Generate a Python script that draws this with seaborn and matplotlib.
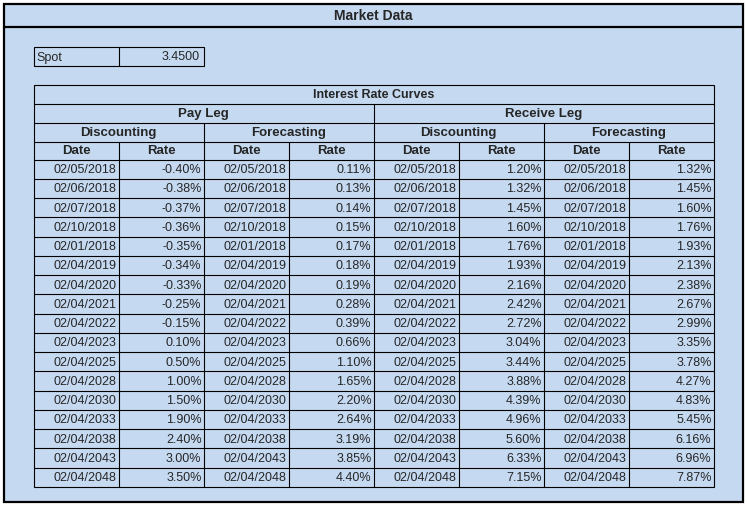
import matplotlib
matplotlib.use('Agg')
import matplotlib.pyplot as plt
import seaborn as sns

dates = ['02/05/2018', '02/06/2018', '02/07/2018', '02/10/2018', '02/01/2018',
         '02/04/2019', '02/04/2020', '02/04/2021', '02/04/2022', '02/04/2023',
         '02/04/2025', '02/04/2028', '02/04/2030', '02/04/2033', '02/04/2038',
         '02/04/2043', '02/04/2048']
pay_disc = [-0.40, -0.38, -0.37, -0.36, -0.35, -0.34, -0.33, -0.25, -0.15, 0.10,
            0.50, 1.00, 1.50, 1.90, 2.40, 3.00, 3.50]
pay_fwd = [0.11, 0.13, 0.14, 0.15, 0.17, 0.18, 0.19, 0.28, 0.39, 0.66,
           1.10, 1.65, 2.20, 2.64, 3.19, 3.85, 4.40]
rec_disc = [1.20, 1.32, 1.45, 1.60, 1.76, 1.93, 2.16, 2.42, 2.72, 3.04,
            3.44, 3.88, 4.39, 4.96, 5.60, 6.33, 7.15]
rec_fwd = [1.32, 1.45, 1.60, 1.76, 1.93, 2.13, 2.38, 2.67, 2.99, 3.35,
           3.78, 4.27, 4.83, 5.45, 6.16, 6.96, 7.87]
spot = 3.45

sns.set_style('white')
plt.rcParams['font.family'] = ['Liberation Sans', 'DejaVu Sans']
BG = '#C5D9F1'

fig = plt.figure(figsize=(7.47, 5.10), dpi=100)
fig.patch.set_facecolor('white')
ax = fig.add_axes([0, 0, 1, 1])
ax.set_xlim(0, 747)
ax.set_ylim(510, 0)
ax.axis('off')

# outer panel
ax.add_patch(plt.Rectangle((3.5, 4.5), 739, 498, facecolor=BG, edgecolor='black', lw=1.6))
ax.plot([3.5, 742.5], [27.5, 27.5], color='black', lw=1.6)
ax.text(373, 16, 'Market Data', ha='center', va='center', fontsize=10, fontweight='bold')

def hline(x0, x1, y):
    ax.plot([x0, x1], [y, y], color='black', lw=0.8)

def vline(x, y0, y1):
    ax.plot([x, x], [y0, y1], color='black', lw=0.8)

# spot box
ax.add_patch(plt.Rectangle((33.5, 47.5), 170, 19, fill=False, edgecolor='black', lw=0.8))
vline(118.5, 47.5, 66.5)
ax.text(36, 57.5, 'Spot', ha='left', va='center', fontsize=9)
ax.text(200, 57.5, f'{spot:.4f}', ha='right', va='center', fontsize=9)

# table grid
cols = [33.5 + 85 * i for i in range(9)]
cols[-1] = 713.5
L, R = cols[0], cols[-1]
top = 85.5
hdr = [top, 104.5, 123.5, 142.5, 160.5]
row_h = 19.25
n = len(dates)
bottom = hdr[-1] + row_h * n

ax.add_patch(plt.Rectangle((L, top), R - L, bottom - top, fill=False, edgecolor='black', lw=0.8))
for y in hdr[1:]:
    hline(L, R, y)
for i in range(1, n):
    hline(L, R, hdr[-1] + row_h * i)
vline(cols[4], hdr[1], bottom)
for c in (cols[2], cols[6]):
    vline(c, hdr[2], bottom)
for c in (cols[1], cols[3], cols[5], cols[7]):
    vline(c, hdr[3], bottom)

def mid(a, b):
    return (a + b) / 2

ax.text(mid(L, R), mid(hdr[0], hdr[1]), 'Interest Rate Curves', ha='center', va='center',
        fontsize=9, fontweight='bold')
for lbl, a, b in [('Pay Leg', cols[0], cols[4]), ('Receive Leg', cols[4], cols[8])]:
    ax.text(mid(a, b), mid(hdr[1], hdr[2]), lbl, ha='center', va='center', fontsize=9.5, fontweight='bold')
for k in range(4):
    lbl = 'Discounting' if k % 2 == 0 else 'Forecasting'
    ax.text(mid(cols[2 * k], cols[2 * k + 2]), mid(hdr[2], hdr[3]), lbl, ha='center', va='center',
            fontsize=9.5, fontweight='bold')
for k in range(8):
    lbl = 'Date' if k % 2 == 0 else 'Rate'
    ax.text(mid(cols[k], cols[k + 1]), mid(hdr[3], hdr[4]), lbl, ha='center', va='center',
            fontsize=9.5, fontweight='bold')

series = [pay_disc, pay_fwd, rec_disc, rec_fwd]
for i in range(n):
    yc = hdr[-1] + row_h * (i + 0.5)
    for k, s in enumerate(series):
        ax.text(cols[2 * k + 1] - 2, yc, dates[i], ha='right', va='center', fontsize=9)
        ax.text(cols[2 * k + 2] - 2, yc, f'{s[i]:.2f}%', ha='right', va='center', fontsize=9)

fig.savefig('out.png', dpi=100, facecolor=fig.get_facecolor())
